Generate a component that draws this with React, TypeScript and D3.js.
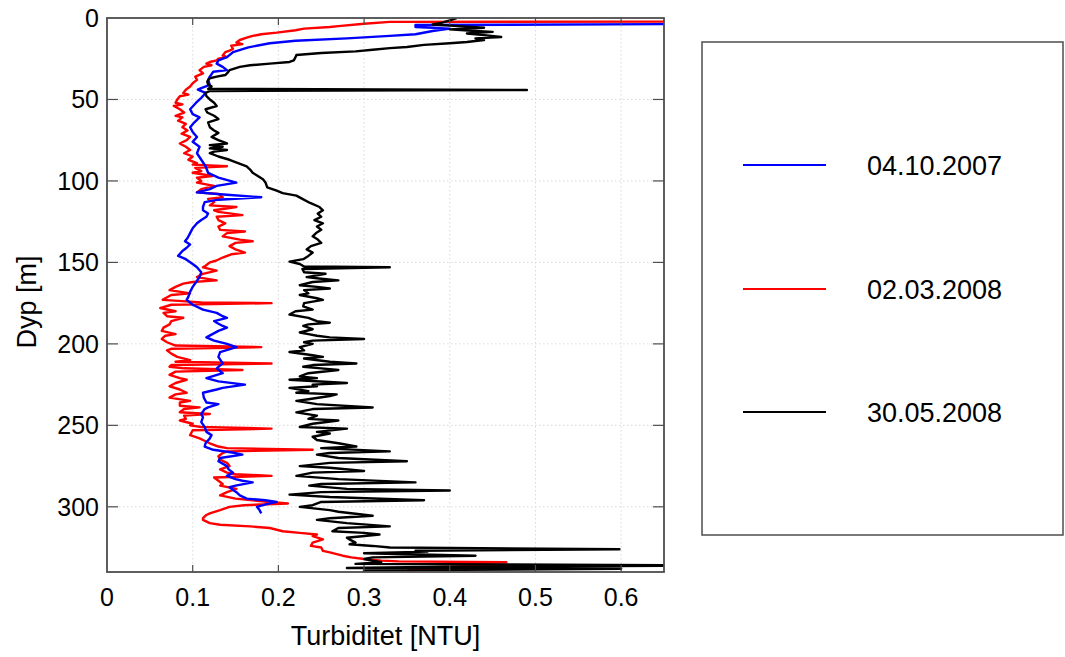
import React from "react";
import * as d3 from "d3";

// ---- data (depth [m], turbidity [NTU]) ----
const xTicks = [0, 0.1, 0.2, 0.3, 0.4, 0.5, 0.6];
const yTicks = [0, 50, 100, 150, 200, 250, 300];
const seriesNames = ["04.10.2007", "02.03.2008", "30.05.2008"];
const seriesColors = ["#0000ff", "#ff0000", "#000000"];

const blueProfile: [number, number][] = [
  [1.5, 0.9], [3.5, 0.8], [4.3, 0.36], [5.5, 0.36], [6.5, 0.40], [8, 0.38], [10, 0.36], [11, 0.33],
  [12.5, 0.28], [14, 0.22], [15.5, 0.19], [18, 0.165], [21, 0.147], [24, 0.14], [26, 0.13], [28, 0.128],
  [30, 0.135], [32, 0.14], [33, 0.124], [36, 0.12], [38, 0.118], [41, 0.12], [43, 0.11], [44, 0.106],
  [46, 0.115], [49, 0.11], [52, 0.104], [56, 0.097], [59, 0.1], [61, 0.108], [64, 0.102], [67, 0.097],
  [70, 0.1], [73, 0.105], [76, 0.1], [79, 0.108], [83, 0.105], [87, 0.11], [91, 0.115], [95, 0.118],
  [98, 0.13], [101, 0.151], [103, 0.128], [105, 0.12], [107, 0.105], [108.5, 0.14], [110, 0.18],
  [111.5, 0.13], [113, 0.114], [116, 0.112], [118, 0.112], [120, 0.118], [122, 0.116], [124, 0.11],
  [126, 0.105], [129, 0.1], [132, 0.097], [135, 0.094], [137, 0.091], [139, 0.097], [141, 0.093],
  [143, 0.088], [146, 0.083], [148, 0.092], [151, 0.1], [153, 0.105], [156, 0.11], [159, 0.108],
  [162, 0.104], [165, 0.1], [168, 0.097], [171, 0.095], [173, 0.093], [176, 0.1], [179, 0.112],
  [181, 0.128], [183, 0.135], [184, 0.14], [186, 0.125], [187, 0.128], [189, 0.135], [190, 0.14],
  [192, 0.13], [194, 0.123], [196, 0.116], [198, 0.125], [200, 0.14], [202, 0.151], [205, 0.132],
  [208, 0.13], [212, 0.135], [215, 0.128], [218, 0.135], [221, 0.116], [223, 0.13], [225, 0.161],
  [227, 0.135], [228, 0.128], [230, 0.112], [233, 0.113], [236, 0.116], [237, 0.13], [239, 0.118],
  [240, 0.114], [243, 0.11], [245, 0.112], [248, 0.11], [251, 0.114], [254, 0.116], [256, 0.122],
  [258, 0.12], [261, 0.115], [263, 0.114], [265, 0.124], [267, 0.15], [268, 0.158], [270, 0.132],
  [272, 0.13], [275, 0.14], [277, 0.142], [279, 0.147], [281, 0.14], [283, 0.15], [284, 0.158],
  [285, 0.17], [287, 0.15], [288, 0.143], [290, 0.148], [291, 0.151], [293, 0.155], [295, 0.163],
  [296, 0.185], [297, 0.198], [298.5, 0.185], [300, 0.175], [302, 0.178], [304, 0.18],
];

const redProfile: [number, number][] = [
  [0.8, 0.9], [2.2, 0.7], [2.4, 0.33], [3.5, 0.3], [5, 0.27], [5.5, 0.26], [6.5, 0.23], [7.5, 0.22],
  [9, 0.198], [10, 0.18], [11, 0.17], [12, 0.163], [13.5, 0.155], [15, 0.151], [16, 0.158], [17, 0.145],
  [19, 0.147], [20, 0.143], [21, 0.138], [23, 0.135], [24, 0.14], [25, 0.13], [26, 0.128], [27, 0.12],
  [28, 0.116], [29, 0.122], [30, 0.113], [32, 0.108], [34, 0.112], [36, 0.103], [38, 0.105], [40, 0.1],
  [42, 0.097], [44, 0.092], [46, 0.089], [47, 0.095], [48, 0.085], [50, 0.082], [52, 0.08], [53, 0.088],
  [54, 0.078], [56, 0.085], [58, 0.09], [60, 0.08], [61, 0.088], [63, 0.083], [65, 0.092], [67, 0.088],
  [69, 0.094], [71, 0.087], [73, 0.097], [75, 0.093], [77, 0.085], [79, 0.092], [81, 0.097], [83, 0.09],
  [85, 0.1], [87, 0.095], [89, 0.105], [90, 0.1], [91, 0.14], [92, 0.103], [94, 0.11], [95, 0.1],
  [97, 0.123], [98, 0.105], [100, 0.11], [101, 0.105], [103, 0.125], [105, 0.11], [107, 0.105],
  [108, 0.13], [110, 0.135], [111, 0.118], [113, 0.125], [115, 0.12], [116, 0.151], [118, 0.125],
  [119, 0.13], [121, 0.158], [122, 0.128], [124, 0.13], [126, 0.138], [128, 0.13], [130, 0.132],
  [131, 0.161], [132, 0.14], [134, 0.135], [136, 0.155], [137, 0.17], [138, 0.15], [140, 0.143],
  [142, 0.15], [144, 0.161], [145, 0.145], [147, 0.135], [149, 0.127], [150, 0.12], [152, 0.115],
  [153, 0.112], [155, 0.128], [157, 0.112], [159, 0.105], [161, 0.128], [162, 0.1], [163, 0.089],
  [165, 0.08], [167, 0.073], [169, 0.097], [170, 0.075], [172, 0.068], [173, 0.065], [174.5, 0.11],
  [175, 0.192], [176, 0.075], [178, 0.062], [180, 0.08], [181, 0.066], [183, 0.07], [184, 0.089],
  [186, 0.075], [188, 0.073], [190, 0.066], [192, 0.064], [194, 0.08], [195, 0.068], [197, 0.064],
  [199, 0.07], [201, 0.08], [202, 0.18], [203, 0.075], [204, 0.07], [206, 0.075], [208, 0.082],
  [210, 0.097], [211, 0.08], [212, 0.192], [213, 0.075], [214, 0.073], [215, 0.09], [216, 0.158],
  [217, 0.08], [219, 0.073], [221, 0.085], [222, 0.093], [224, 0.08], [226, 0.073], [228, 0.085],
  [230, 0.093], [231, 0.08], [233, 0.073], [235, 0.097], [236, 0.085], [238, 0.085], [239, 0.108],
  [240, 0.09], [242, 0.085], [243, 0.12], [244, 0.09], [246, 0.092], [247, 0.085], [249, 0.1],
  [250, 0.097], [251, 0.11], [252, 0.192], [253, 0.1], [255, 0.098], [256, 0.097], [258, 0.108],
  [259, 0.112], [261, 0.12], [263, 0.13], [264, 0.14], [265, 0.24], [266, 0.14], [267, 0.135],
  [269, 0.13], [271, 0.132], [273, 0.14], [275, 0.143], [277, 0.132], [279, 0.14], [280, 0.15],
  [281, 0.192], [282, 0.125], [284, 0.13], [286, 0.135], [287, 0.132], [289, 0.151], [291, 0.14],
  [293, 0.132], [295, 0.15], [296, 0.17], [297, 0.19], [298, 0.211], [299, 0.16], [300, 0.143],
  [302, 0.132], [304, 0.12], [305, 0.116], [307, 0.112], [308, 0.112], [310, 0.12], [311, 0.132],
  [312, 0.167], [313, 0.19], [315, 0.205], [316, 0.225], [317, 0.245], [318, 0.24], [320, 0.252],
  [322, 0.24], [324, 0.238], [325, 0.25], [327, 0.252], [328, 0.26], [330, 0.275], [331, 0.285],
  [332, 0.3], [333, 0.32], [333.5, 0.34], [334, 0.466], [335, 0.38], [336, 0.45], [337, 0.54],
  [338, 0.4], [339, 0.35],
];

const blackProfile: [number, number][] = [
  [0, 0.408], [1.5, 0.4], [3, 0.39], [4, 0.38], [5, 0.41], [6, 0.44], [7, 0.4], [8, 0.43], [8.5, 0.45],
  [9.5, 0.42], [10.5, 0.44], [11.7, 0.46], [12.5, 0.43], [13.5, 0.44], [14.7, 0.42], [15.5, 0.4],
  [16.5, 0.37], [17.8, 0.35], [18.5, 0.33], [19.5, 0.31], [20.5, 0.29], [21.5, 0.25], [22.7, 0.221],
  [24, 0.22], [26, 0.218], [27, 0.213], [28, 0.19], [29, 0.167], [30, 0.155], [32, 0.143], [34, 0.14],
  [35, 0.138], [36, 0.128], [37, 0.12], [39, 0.117], [41, 0.118], [42, 0.122], [43.5, 0.118],
  [44.2, 0.49], [44.8, 0.12], [46, 0.115], [48, 0.116], [50, 0.12], [52, 0.125], [54, 0.128],
  [56, 0.115], [58, 0.117], [60, 0.125], [62, 0.13], [64, 0.118], [67, 0.12], [69, 0.125], [70.5, 0.13],
  [73, 0.122], [75, 0.13], [77, 0.14], [78, 0.12], [79, 0.135], [80, 0.12], [81, 0.14], [82, 0.125],
  [83, 0.12], [85, 0.13], [87, 0.143], [89, 0.153], [91, 0.163], [93, 0.167], [95, 0.17], [97, 0.176],
  [99, 0.182], [101, 0.185], [104, 0.187], [106, 0.198], [107.5, 0.205], [109, 0.221], [111, 0.228],
  [113.5, 0.237], [116, 0.248], [118, 0.252], [120, 0.246], [122, 0.25], [124, 0.242], [126, 0.252],
  [128, 0.245], [130, 0.25], [132, 0.244], [134, 0.24], [136, 0.246], [138, 0.25], [140, 0.238],
  [142, 0.233], [144, 0.24], [146, 0.235], [148, 0.229], [149.5, 0.213], [151, 0.225], [152.5, 0.23],
  [153, 0.33], [154, 0.228], [156, 0.23], [157, 0.255], [159, 0.233], [160, 0.25], [161, 0.27],
  [162, 0.24], [164, 0.225], [165, 0.245], [166, 0.26], [167, 0.23], [169, 0.235], [170, 0.225],
  [172, 0.245], [173, 0.252], [175, 0.23], [177, 0.229], [179, 0.24], [180, 0.22], [182, 0.213],
  [184, 0.235], [186, 0.245], [187, 0.26], [188, 0.235], [189, 0.229], [191, 0.24], [193, 0.225],
  [194, 0.235], [195, 0.245], [196, 0.26], [197, 0.3], [198, 0.24], [199, 0.23], [200, 0.24],
  [202, 0.225], [204, 0.23], [205, 0.213], [207, 0.24], [208, 0.252], [209, 0.23], [211, 0.26],
  [212, 0.291], [213, 0.24], [214, 0.229], [215, 0.25], [216, 0.27], [218, 0.235], [220, 0.225],
  [221, 0.245], [222, 0.213], [224, 0.28], [225, 0.24], [226, 0.245], [227, 0.213], [229, 0.235],
  [230, 0.221], [231, 0.268], [232, 0.26], [234, 0.235], [235, 0.221], [237, 0.245], [239, 0.31],
  [240, 0.24], [242, 0.221], [244, 0.245], [246, 0.235], [247, 0.27], [249, 0.24], [251, 0.225],
  [252, 0.28], [254, 0.245], [255, 0.26], [257, 0.24], [259, 0.245], [261, 0.27], [263, 0.291],
  [264, 0.25], [266, 0.33], [267, 0.26], [268, 0.245], [270, 0.27], [272, 0.35], [273, 0.26],
  [275, 0.225], [276, 0.26], [278, 0.3], [279, 0.24], [281, 0.221], [283, 0.27], [285, 0.36],
  [286, 0.25], [287, 0.236], [289, 0.28], [290, 0.4], [291, 0.25], [292.5, 0.213], [294, 0.26],
  [296, 0.37], [297, 0.25], [299, 0.24], [300, 0.225], [302, 0.26], [303, 0.27], [305.5, 0.31],
  [307, 0.26], [308, 0.245], [310, 0.28], [312, 0.33], [313, 0.27], [315, 0.263], [316, 0.3],
  [317, 0.318], [319, 0.28], [320, 0.283], [322, 0.29], [323, 0.283], [324, 0.31], [325, 0.33],
  [326, 0.598], [327, 0.36], [327.5, 0.374], [328.5, 0.3], [330, 0.43], [331, 0.31], [332, 0.3],
  [333, 0.31], [334, 0.32], [335, 0.29], [336, 0.7], [337, 0.35], [337.5, 0.28], [338, 0.6],
  [339, 0.3], [340, 0.3],
];

const profiles = [blueProfile, redProfile, blackProfile];
const drawOrder = [1, 0, 2];

// ---- layout ----
const W = 1065;
const H = 657;
const plot = { left: 107, right: 664, top: 18, bottom: 572 };
const FONT = "'Liberation Sans', Arial, Helvetica, sans-serif";

export default function App() {
  const x = d3.scaleLinear().domain([0, 0.65]).range([plot.left, plot.right]);
  const y = d3.scaleLinear().domain([0, 340]).range([plot.top, plot.bottom]);
  const line = d3
    .line<[number, number]>()
    .x((d) => x(d[1]))
    .y((d) => y(d[0]));

  const axisColor = "#4d4d4d";
  const legendRows = [165, 289, 412];

  return (
    <div style={{ position: "fixed", left: 0, top: 0, width: W, height: H, background: "#fff" }}>
      <svg width={W} height={H} style={{ display: "block" }} fontFamily={FONT}>
        <rect width={W} height={H} fill="#fff" />
        <defs>
          <clipPath id="plotClip">
            <rect x={plot.left} y={plot.top} width={plot.right - plot.left} height={plot.bottom - plot.top} />
          </clipPath>
        </defs>

        {/* grid */}
        {xTicks.slice(1).map((t) => (
          <line key={"gx" + t} x1={x(t)} x2={x(t)} y1={plot.top} y2={plot.bottom}
            stroke="#d9d9d9" strokeWidth={1} strokeDasharray="1.5,2.5" />
        ))}
        {yTicks.slice(1).map((t) => (
          <line key={"gy" + t} x1={plot.left} x2={plot.right} y1={y(t)} y2={y(t)}
            stroke="#d9d9d9" strokeWidth={1} strokeDasharray="1.5,2.5" />
        ))}

        {/* profiles */}
        <g clipPath="url(#plotClip)">
          {drawOrder.map((i) => (
            <path key={"p" + i} d={line(profiles[i]) || ""} fill="none"
              stroke={seriesColors[i]} strokeWidth={2.4} strokeLinejoin="round" />
          ))}
        </g>

        {/* ticks */}
        {xTicks.slice(1).map((t) => (
          <g key={"tx" + t}>
            <line x1={x(t)} x2={x(t)} y1={plot.bottom} y2={plot.bottom - 7} stroke={axisColor} strokeWidth={1.2} />
            <line x1={x(t)} x2={x(t)} y1={plot.top} y2={plot.top + 7} stroke={axisColor} strokeWidth={1.2} />
          </g>
        ))}
        {yTicks.slice(1).map((t) => (
          <g key={"ty" + t}>
            <line x1={plot.left} x2={plot.left + 11} y1={y(t)} y2={y(t)} stroke={axisColor} strokeWidth={1.2} />
            <line x1={plot.right} x2={plot.right - 11} y1={y(t)} y2={y(t)} stroke={axisColor} strokeWidth={1.2} />
          </g>
        ))}

        {/* frame */}
        <rect x={plot.left} y={plot.top} width={plot.right - plot.left} height={plot.bottom - plot.top}
          fill="none" stroke={axisColor} strokeWidth={1.8} />

        {/* tick labels */}
        {xTicks.map((t) => (
          <text key={"lx" + t} x={x(t)} y={606} textAnchor="middle" fontSize={25} fill="#000">
            {String(t)}
          </text>
        ))}
        {yTicks.map((t) => (
          <text key={"ly" + t} x={99} y={y(t)} dy="0.36em" textAnchor="end" fontSize={25} fill="#000">
            {String(t)}
          </text>
        ))}

        {/* axis labels */}
        <text x={(plot.left + plot.right) / 2} y={645} textAnchor="middle" fontSize={27} fill="#000">
          Turbiditet [NTU]
        </text>
        <text transform={`translate(36, 302) rotate(-90)`} textAnchor="middle"
          fontSize={27} fill="#000">
          Dyp [m]
        </text>

        {/* legend */}
        <rect x={702} y={42} width={361} height={493} fill="#fff" stroke={axisColor} strokeWidth={1.5} />
        {seriesNames.map((name, i) => (
          <g key={name}>
            <line x1={743} x2={826} y1={legendRows[i]} y2={legendRows[i]} stroke={seriesColors[i]} strokeWidth={2} />
            <text x={867} y={legendRows[i]} dy="0.36em" fontSize={27} fill="#000">
              {name}
            </text>
          </g>
        ))}
      </svg>
    </div>
  );
}
